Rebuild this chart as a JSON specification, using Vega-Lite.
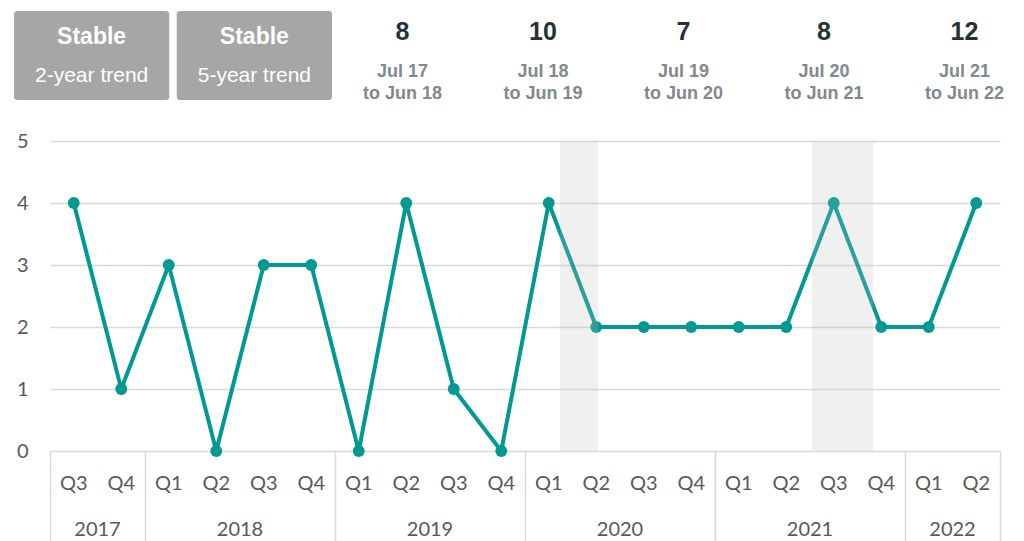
{
  "$schema": "https://vega.github.io/schema/vega-lite/v6.json",
  "width": 950,
  "height": 310,
  "autosize": {"type": "none"},
  "padding": {"left": 50, "top": 141, "right": 24, "bottom": 90},
  "background": "white",
  "config": {"view": {"stroke": null}},
  "datasets": {
    "quarters": [
      {"year": 2017, "quarter": "Q3", "t": 2017.5, "fy": 2018, "value": 4},
      {"year": 2017, "quarter": "Q4", "t": 2017.75, "fy": 2018, "value": 1},
      {"year": 2018, "quarter": "Q1", "t": 2018.0, "fy": 2018, "value": 3},
      {"year": 2018, "quarter": "Q2", "t": 2018.25, "fy": 2018, "value": 0},
      {"year": 2018, "quarter": "Q3", "t": 2018.5, "fy": 2019, "value": 3},
      {"year": 2018, "quarter": "Q4", "t": 2018.75, "fy": 2019, "value": 3},
      {"year": 2019, "quarter": "Q1", "t": 2019.0, "fy": 2019, "value": 0},
      {"year": 2019, "quarter": "Q2", "t": 2019.25, "fy": 2019, "value": 4},
      {"year": 2019, "quarter": "Q3", "t": 2019.5, "fy": 2020, "value": 1},
      {"year": 2019, "quarter": "Q4", "t": 2019.75, "fy": 2020, "value": 0},
      {"year": 2020, "quarter": "Q1", "t": 2020.0, "fy": 2020, "value": 4},
      {"year": 2020, "quarter": "Q2", "t": 2020.25, "fy": 2020, "value": 2},
      {"year": 2020, "quarter": "Q3", "t": 2020.5, "fy": 2021, "value": 2},
      {"year": 2020, "quarter": "Q4", "t": 2020.75, "fy": 2021, "value": 2},
      {"year": 2021, "quarter": "Q1", "t": 2021.0, "fy": 2021, "value": 2},
      {"year": 2021, "quarter": "Q2", "t": 2021.25, "fy": 2021, "value": 2},
      {"year": 2021, "quarter": "Q3", "t": 2021.5, "fy": 2022, "value": 4},
      {"year": 2021, "quarter": "Q4", "t": 2021.75, "fy": 2022, "value": 2},
      {"year": 2022, "quarter": "Q1", "t": 2022.0, "fy": 2022, "value": 2},
      {"year": 2022, "quarter": "Q2", "t": 2022.25, "fy": 2022, "value": 4}
    ],
    "periods": [
      {"fy": 2018, "from": "Jul 17", "to": "to Jun 18"},
      {"fy": 2019, "from": "Jul 18", "to": "to Jun 19"},
      {"fy": 2020, "from": "Jul 19", "to": "to Jun 20"},
      {"fy": 2021, "from": "Jul 20", "to": "to Jun 21"},
      {"fy": 2022, "from": "Jul 21", "to": "to Jun 22"}
    ],
    "shades": [
      {"start": 2020.059, "end": 2020.259},
      {"start": 2021.386, "end": 2021.707}
    ],
    "boxes": [
      {"trend": "2-year trend", "status": "Stable"},
      {"trend": "5-year trend", "status": "Stable"}
    ]
  },
  "layer": [
    {
      "data": {"name": "quarters"},
      "mark": {"type": "line", "color": "#009a93", "strokeWidth": 4},
      "encoding": {
        "x": {
          "field": "t", "type": "quantitative", "title": null,
          "scale": {"domain": [2017.375, 2022.375], "nice": false, "zero": false},
          "axis": {
            "values": [2017.375, 2017.875, 2018.875, 2019.875, 2020.875, 2021.875, 2022.375],
            "labels": false, "ticks": true, "tickSize": 90, "tickColor": "#d9d9d9", "tickWidth": 1.5,
            "domain": false, "grid": false, "title": null
          }
        },
        "y": {
          "field": "value", "type": "quantitative", "title": null,
          "scale": {"domain": [0, 5], "nice": false, "zero": false},
          "axis": {
            "values": [0, 1, 2, 3, 4, 5], "format": "d", "grid": true, "gridColor": "#d9d9d9", "gridWidth": 1.5,
            "domain": false, "ticks": false, "labelFont": "Lato", "labelFontSize": 20,
            "labelColor": "#595959", "labelPadding": 22, "title": null
          }
        }
      }
    },
    {
      "data": {"name": "quarters"},
      "mark": {"type": "point", "filled": true, "color": "#009a93", "size": 140, "opacity": 1},
      "encoding": {
        "x": {"field": "t", "type": "quantitative", "scale": {"domain": [2017.375, 2022.375], "nice": false, "zero": false}, "axis": null},
        "y": {"field": "value", "type": "quantitative", "title": null}
      }
    },
    {
      "data": {"name": "quarters"},
      "mark": {"type": "text", "font": "Lato", "fontSize": 20, "color": "#595959", "baseline": "alphabetic"},
      "encoding": {
        "x": {"field": "t", "type": "quantitative", "scale": {"domain": [2017.375, 2022.375], "nice": false, "zero": false}, "axis": null},
        "y": {"datum": -0.629, "type": "quantitative", "title": null},
        "text": {"field": "quarter"}
      }
    },
    {
      "data": {"name": "quarters"},
      "transform": [{"aggregate": [{"op": "mean", "field": "t", "as": "tc"}], "groupby": ["year"]}],
      "mark": {"type": "text", "font": "Lato", "fontSize": 20, "color": "#595959", "baseline": "alphabetic"},
      "encoding": {
        "x": {"field": "tc", "type": "quantitative", "scale": {"domain": [2017.375, 2022.375], "nice": false, "zero": false}, "axis": null},
        "y": {"datum": -1.371, "type": "quantitative", "title": null},
        "text": {"field": "year"}
      }
    },
    {
      "data": {"name": "shades"},
      "mark": {"type": "rect", "fill": "#bcbcbc", "opacity": 0.22},
      "encoding": {
        "x": {"field": "start", "type": "quantitative", "scale": {"domain": [2017.375, 2022.375], "nice": false, "zero": false}, "axis": null},
        "x2": {"field": "end"},
        "y": {"datum": 0, "type": "quantitative", "title": null},
        "y2": {"datum": 5}
      }
    },
    {
      "data": {"name": "quarters"},
      "transform": [{"aggregate": [{"op": "sum", "field": "value", "as": "count"}], "groupby": ["fy"]}],
      "mark": {"type": "text", "font": "Liberation Sans", "fontSize": 25, "fontWeight": "bold", "color": "#263238", "baseline": "alphabetic"},
      "encoding": {
        "x": {"field": "fy", "type": "quantitative", "scale": {"domain": [2015.491, 2022.253], "nice": false, "zero": false}, "axis": null},
        "y": {"datum": 6.63, "type": "quantitative", "title": null},
        "text": {"field": "count"}
      }
    },
    {
      "data": {"name": "periods"},
      "mark": {"type": "text", "font": "Liberation Sans", "fontSize": 18, "fontWeight": "bold", "color": "#7f898e", "baseline": "alphabetic"},
      "encoding": {
        "x": {"field": "fy", "type": "quantitative", "scale": {"domain": [2015.491, 2022.253], "nice": false, "zero": false}, "axis": null},
        "y": {"datum": 6.032, "type": "quantitative", "title": null},
        "text": {"field": "from"}
      }
    },
    {
      "data": {"name": "periods"},
      "mark": {"type": "text", "font": "Liberation Sans", "fontSize": 18, "fontWeight": "bold", "color": "#7f898e", "baseline": "alphabetic"},
      "encoding": {
        "x": {"field": "fy", "type": "quantitative", "scale": {"domain": [2015.491, 2022.253], "nice": false, "zero": false}, "axis": null},
        "y": {"datum": 5.677, "type": "quantitative", "title": null},
        "text": {"field": "to"}
      }
    },
    {
      "data": {"name": "boxes"},
      "mark": {"type": "rect", "fill": "#a6a6a6", "cornerRadius": 3},
      "encoding": {
        "x": {"field": "trend", "type": "nominal", "scale": {"type": "band", "range": [-36, 282], "paddingInner": 0.046, "paddingOuter": 0}, "axis": null},
        "y": {"datum": 7.097, "type": "quantitative", "title": null},
        "y2": {"datum": 5.661}
      }
    },
    {
      "data": {"name": "boxes"},
      "mark": {"type": "text", "font": "Liberation Sans", "fontSize": 23, "fontWeight": "bold", "color": "white", "baseline": "alphabetic"},
      "encoding": {
        "x": {"field": "trend", "type": "nominal", "scale": {"type": "band", "range": [-36, 282], "paddingInner": 0.046, "paddingOuter": 0}, "axis": null},
        "y": {"datum": 6.565, "type": "quantitative", "title": null},
        "text": {"field": "status"}
      }
    },
    {
      "data": {"name": "boxes"},
      "mark": {"type": "text", "font": "Liberation Sans", "fontSize": 21, "color": "white", "baseline": "alphabetic"},
      "encoding": {
        "x": {"field": "trend", "type": "nominal", "scale": {"type": "band", "range": [-36, 282], "paddingInner": 0.046, "paddingOuter": 0}, "axis": null},
        "y": {"datum": 5.956, "type": "quantitative", "title": null},
        "text": {"field": "trend"}
      }
    }
  ],
  "resolve": {"scale": {"x": "independent"}, "axis": {"x": "independent"}}
}
